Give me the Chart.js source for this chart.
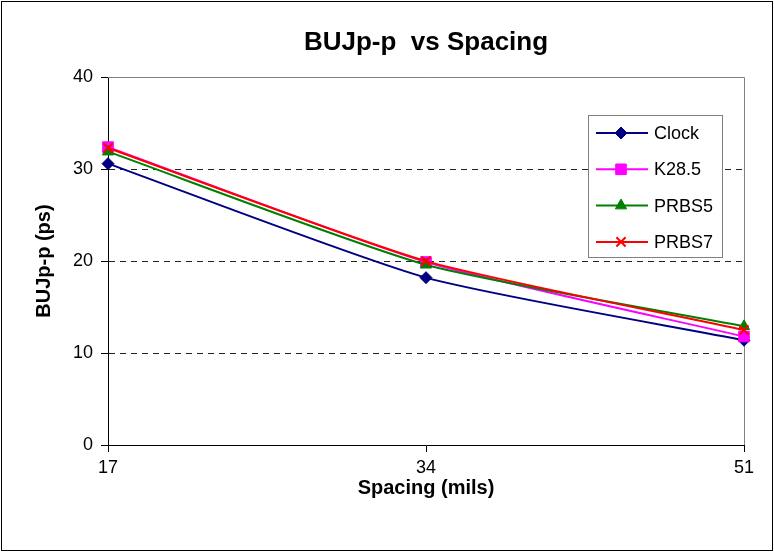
<!DOCTYPE html>
<html>
<head>
<meta charset="utf-8">
<script src="https://cdn.jsdelivr.net/npm/chart.js@4"></script>
<style>
  html, body { margin: 0; padding: 0; background: #fff; }
  #wrap { width: 774px; height: 552px; }
</style>
</head>
<body>
<div id="wrap"><canvas id="lineChart" width="774" height="552"></canvas></div>
<script>
// values
const spacing = ['17', '34', '51']
const seriesNames = ['Clock', 'K28.5', 'PRBS5', 'PRBS7']
const clockValues = [30.6, 18.2, 11.4]
const k285Values = [32.4, 19.9, 11.8]
const prbs5Values = [31.9, 19.6, 12.9]
const prbs7Values = [32.3, 20.0, 12.5]
const yMin = 0
const yMax = 40
const yStep = 10

const seriesValues = [clockValues, k285Values, prbs5Values, prbs7Values]
const seriesColors = ['#000080', '#FF00FF', '#008000', '#FF0000']
const seriesMarkers = ['rectRot', 'rect', 'triangle', 'crossRot']
const markerSizes = [6, 7.5, 6.5, 6.5]

const FONT = 'Arial, "Liberation Sans", sans-serif'

const datasets = seriesNames.map((name, i) => ({
  label: name,
  data: seriesValues[i],
  borderColor: seriesColors[i],
  backgroundColor: seriesColors[i],
  borderWidth: 2,
  tension: 0.2,
  pointStyle: seriesMarkers[i],
  pointRadius: markerSizes[i],
  pointBackgroundColor: seriesColors[i],
  pointBorderColor: seriesColors[i],
  pointBorderWidth: seriesMarkers[i] === 'crossRot' ? 2 : 1,
  order: seriesNames.length - i
}))

// white page, outer frame, grey plot border
const frame = {
  id: 'frame',
  beforeDraw(chart) {
    const ctx = chart.ctx
    ctx.save()
    ctx.fillStyle = '#fff'
    ctx.fillRect(0, 0, chart.width, chart.height)
    ctx.restore()
  },
  beforeDatasetsDraw(chart) {
    const { ctx, chartArea } = chart
    ctx.save()
    ctx.strokeStyle = '#808080'
    ctx.lineWidth = 1
    ctx.beginPath()
    ctx.moveTo(chartArea.left, Math.round(chartArea.top) + 0.5)
    ctx.lineTo(Math.round(chartArea.right) + 0.5, Math.round(chartArea.top) + 0.5)
    ctx.lineTo(Math.round(chartArea.right) + 0.5, chartArea.bottom)
    ctx.stroke()
    ctx.restore()
  },
  afterDraw(chart) {
    const ctx = chart.ctx
    ctx.save()
    ctx.strokeStyle = '#000'
    ctx.lineWidth = 1
    ctx.strokeRect(1.5, 1.5, chart.width - 3, chart.height - 3)
    ctx.restore()
  }
}

// legend box inside the plot, Excel style
const boxLegend = {
  id: 'boxLegend',
  afterDraw(chart) {
    const ctx = chart.ctx
    const left = 588.5, top = 115.5, w = 134, h = 142
    ctx.save()
    ctx.fillStyle = '#fff'
    ctx.fillRect(left, top, w, h)
    ctx.strokeStyle = '#808080'
    ctx.lineWidth = 1
    ctx.strokeRect(left, top, w, h)
    chart.data.datasets.forEach((ds, i) => {
      const y = 133 + i * 36.3
      ctx.strokeStyle = ds.borderColor
      ctx.lineWidth = 2
      ctx.beginPath()
      ctx.moveTo(596, y)
      ctx.lineTo(648, y)
      ctx.stroke()
      ctx.fillStyle = ds.pointBackgroundColor
      ctx.strokeStyle = ds.pointBorderColor
      ctx.lineWidth = ds.pointBorderWidth
      Chart.helpers.drawPoint(ctx, {
        pointStyle: ds.pointStyle,
        radius: ds.pointRadius,
        rotation: 0,
        borderWidth: ds.pointBorderWidth
      }, 621, y)
      ctx.fillStyle = '#000'
      ctx.font = '18px ' + FONT
      ctx.textBaseline = 'middle'
      ctx.textAlign = 'left'
      ctx.fillText(ds.label, 654, y + 1)
    })
    ctx.restore()
  }
}

new Chart(document.getElementById('lineChart').getContext('2d'), {
  type: 'line',
  data: {
    labels: spacing,
    datasets: datasets
  },
  options: {
    responsive: false,
    animation: false,
    layout: {
      padding: { left: 0, right: 30, top: 0, bottom: 0 }
    },
    plugins: {
      legend: { display: false },
      tooltip: { enabled: false },
      title: {
        display: true,
        text: 'BUJp-p  vs Spacing',
        color: '#000',
        fullSize: false,
        font: { family: FONT, size: 26, weight: 'bold' },
        padding: { top: 27, bottom: 19 }
      }
    },
    scales: {
      x: {
        type: 'category',
        offset: false,
        afterFit(scale) { scale.height = 107 },
        grid: {
          drawOnChartArea: false,
          drawTicks: true,
          tickLength: 7,
          tickColor: '#000'
        },
        border: { color: '#000', width: 1 },
        ticks: {
          color: '#000',
          font: { family: FONT, size: 18 },
          padding: 5,
          maxRotation: 0
        },
        title: {
          display: true,
          text: 'Spacing (mils)',
          color: '#000',
          font: { family: FONT, size: 20, weight: 'bold' },
          padding: { top: 0, bottom: 52 }
        }
      },
      y: {
        min: yMin,
        max: yMax,
        afterFit(scale) { scale.width = 108 },
        grid: {
          color: ctx => (ctx.tick && ctx.tick.value > yMin && ctx.tick.value < yMax) ? '#222' : 'rgba(0,0,0,0)',
          drawTicks: true,
          tickLength: 7,
          tickColor: '#000',
          tickBorderDash: []
        },
        border: { color: '#000', width: 1, dash: [6, 5] },
        ticks: {
          stepSize: yStep,
          color: '#000',
          font: { family: FONT, size: 18 },
          padding: 8
        },
        title: {
          display: true,
          text: 'BUJp-p (ps)',
          color: '#000',
          font: { family: FONT, size: 20, weight: 'bold' },
          padding: { top: 32, bottom: 0 }
        }
      }
    }
  },
  plugins: [frame, boxLegend]
})
</script>
</body>
</html>
